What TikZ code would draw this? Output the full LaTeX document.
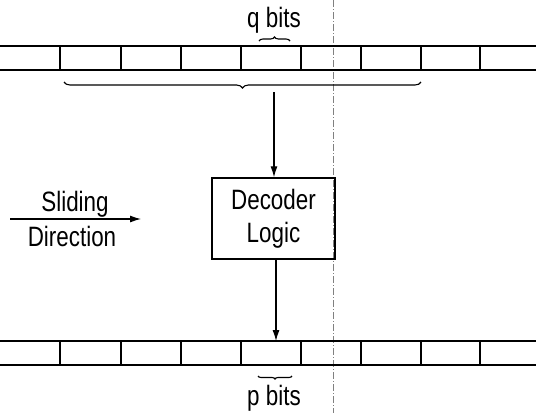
\documentclass[tikz,border=0pt]{standalone}
\usepackage{fontspec}
\setmainfont{Liberation Sans}[FakeStretch=0.8]
\usetikzlibrary{arrows.meta,decorations.pathreplacing}
\begin{document}
\begin{tikzpicture}[x=1pt,y=-1pt,
  reg/.style={line width=1.4pt},
  cell/.style={line width=1.1pt},
  br/.style={decorate,decoration={brace,amplitude=#1},line width=1.1pt},
  arr/.style={line width=1.1pt,-{Latex[length=11pt,width=7pt]}},
  lbl/.style={font=\fontsize{28}{30}\selectfont,inner sep=0pt},
  box/.style={draw,line width=1.4pt,minimum width=123pt,minimum height=81pt,align=center,font=\fontsize{28}{33}\selectfont}]
\useasboundingbox (0,0) rectangle (536,413);
% dash-dot vertical line
\draw[gray,line width=0.8pt,dash pattern=on 7pt off 2pt on 1pt off 2pt] (333,0) -- (333,413);
% top register
\draw[reg] (0,46) -- (536,46);
\draw[reg] (0,70) -- (536,70);
\foreach \x in {60,121,181,241,301,361,421,480} \draw[cell] (\x,46) -- (\x,70);
% bottom register
\draw[reg] (0,341) -- (536,341);
\draw[reg] (0,365) -- (536,365);
\foreach \x in {60,121,181,241,301,361,421,480} \draw[cell] (\x,341) -- (\x,365);
% braces
\draw[br=4pt] (259,41) -- (290,41);
\node[lbl] (q) at (274,20) {q bits};
\draw[br=6pt] (421,82) -- (64,82);
\coordinate (lb) at (274,92);
\draw[br=3pt] (292,376) -- (258,376);
\node[lbl] (p) at (274,398) {p bits};
% decoder
\node[box] (dec) at (273.5,218.5) {Decoder\\Logic};
\coordinate (bt) at (276,341);
\draw[arr] (lb) -- (lb |- dec.north);
\draw[arr] (dec.south -| bt) -- (bt);
% sliding direction
\node[lbl] (s1) at (75,204) {Sliding};
\node[lbl] (s2) at (72,236) {Direction};
\coordinate (sa) at (10,219);
\coordinate (sb) at (141,219);
\draw[arr] (sa) -- (sb);
\end{tikzpicture}
\end{document}
